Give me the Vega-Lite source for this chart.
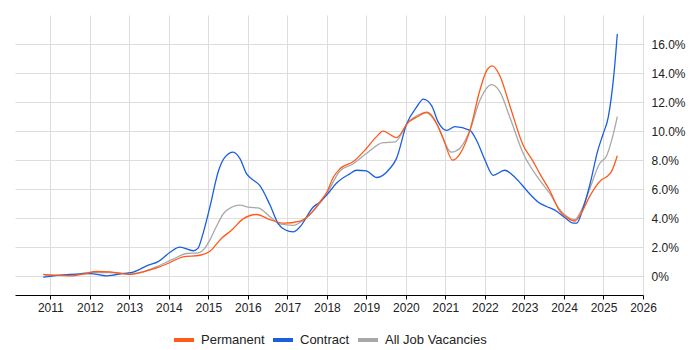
{
  "$schema": "https://vega.github.io/schema/vega-lite/v6.json",
  "width": 628,
  "height": 280,
  "autosize": "none",
  "padding": {"left": 15, "top": 15, "right": 57, "bottom": 55},
  "config": {"view": {"stroke": null}, "font": "Liberation Sans"},
  "data": {"values": [
    {"series": "All Job Vacancies", "year": 2010.85, "value": 0.08},
    {"series": "All Job Vacancies", "year": 2011.5, "value": 0.05},
    {"series": "All Job Vacancies", "year": 2012.0, "value": 0.25},
    {"series": "All Job Vacancies", "year": 2012.5, "value": 0.25},
    {"series": "All Job Vacancies", "year": 2013.0, "value": 0.15},
    {"series": "All Job Vacancies", "year": 2013.35, "value": 0.3},
    {"series": "All Job Vacancies", "year": 2013.69, "value": 0.65},
    {"series": "All Job Vacancies", "year": 2014.11, "value": 1.17},
    {"series": "All Job Vacancies", "year": 2014.45, "value": 1.56},
    {"series": "All Job Vacancies", "year": 2014.74, "value": 1.6},
    {"series": "All Job Vacancies", "year": 2014.9, "value": 1.9},
    {"series": "All Job Vacancies", "year": 2015.04, "value": 2.5},
    {"series": "All Job Vacancies", "year": 2015.2, "value": 3.4},
    {"series": "All Job Vacancies", "year": 2015.38, "value": 4.3},
    {"series": "All Job Vacancies", "year": 2015.59, "value": 4.75},
    {"series": "All Job Vacancies", "year": 2015.8, "value": 4.9},
    {"series": "All Job Vacancies", "year": 2016.01, "value": 4.75},
    {"series": "All Job Vacancies", "year": 2016.26, "value": 4.7},
    {"series": "All Job Vacancies", "year": 2016.56, "value": 4.1},
    {"series": "All Job Vacancies", "year": 2016.81, "value": 3.6},
    {"series": "All Job Vacancies", "year": 2017.15, "value": 3.5},
    {"series": "All Job Vacancies", "year": 2017.4, "value": 3.85},
    {"series": "All Job Vacancies", "year": 2017.74, "value": 4.75},
    {"series": "All Job Vacancies", "year": 2018.0, "value": 5.7},
    {"series": "All Job Vacancies", "year": 2018.33, "value": 7.25},
    {"series": "All Job Vacancies", "year": 2018.67, "value": 7.75},
    {"series": "All Job Vacancies", "year": 2019.0, "value": 8.45},
    {"series": "All Job Vacancies", "year": 2019.42, "value": 9.2},
    {"series": "All Job Vacancies", "year": 2019.72, "value": 9.25},
    {"series": "All Job Vacancies", "year": 2020.06, "value": 10.6},
    {"series": "All Job Vacancies", "year": 2020.52, "value": 11.25},
    {"series": "All Job Vacancies", "year": 2020.78, "value": 10.5},
    {"series": "All Job Vacancies", "year": 2021.15, "value": 8.55},
    {"series": "All Job Vacancies", "year": 2021.36, "value": 8.8},
    {"series": "All Job Vacancies", "year": 2021.62, "value": 10.05},
    {"series": "All Job Vacancies", "year": 2021.87, "value": 12.1},
    {"series": "All Job Vacancies", "year": 2022.17, "value": 13.2},
    {"series": "All Job Vacancies", "year": 2022.38, "value": 12.7},
    {"series": "All Job Vacancies", "year": 2022.63, "value": 10.95},
    {"series": "All Job Vacancies", "year": 2022.97, "value": 8.45},
    {"series": "All Job Vacancies", "year": 2023.39, "value": 6.6},
    {"series": "All Job Vacancies", "year": 2023.64, "value": 5.7},
    {"series": "All Job Vacancies", "year": 2023.89, "value": 4.6},
    {"series": "All Job Vacancies", "year": 2024.27, "value": 3.9},
    {"series": "All Job Vacancies", "year": 2024.45, "value": 4.6},
    {"series": "All Job Vacancies", "year": 2024.65, "value": 6.0},
    {"series": "All Job Vacancies", "year": 2024.9, "value": 7.75},
    {"series": "All Job Vacancies", "year": 2025.08, "value": 8.3},
    {"series": "All Job Vacancies", "year": 2025.24, "value": 9.7},
    {"series": "All Job Vacancies", "year": 2025.35, "value": 11.0},

    {"series": "Contract", "year": 2010.82, "value": -0.07},
    {"series": "Contract", "year": 2011.2, "value": 0.05},
    {"series": "Contract", "year": 2011.5, "value": 0.12},
    {"series": "Contract", "year": 2012.0, "value": 0.18},
    {"series": "Contract", "year": 2012.43, "value": 0.02},
    {"series": "Contract", "year": 2012.85, "value": 0.19},
    {"series": "Contract", "year": 2013.1, "value": 0.28},
    {"series": "Contract", "year": 2013.48, "value": 0.76},
    {"series": "Contract", "year": 2013.73, "value": 1.0},
    {"series": "Contract", "year": 2014.03, "value": 1.65},
    {"series": "Contract", "year": 2014.28, "value": 2.0},
    {"series": "Contract", "year": 2014.62, "value": 1.75},
    {"series": "Contract", "year": 2014.74, "value": 1.93},
    {"series": "Contract", "year": 2014.83, "value": 2.6},
    {"series": "Contract", "year": 2015.04, "value": 4.77},
    {"series": "Contract", "year": 2015.25, "value": 7.2},
    {"series": "Contract", "year": 2015.42, "value": 8.2},
    {"series": "Contract", "year": 2015.63, "value": 8.55},
    {"series": "Contract", "year": 2015.8, "value": 8.1},
    {"series": "Contract", "year": 2015.97, "value": 7.05},
    {"series": "Contract", "year": 2016.1, "value": 6.7},
    {"series": "Contract", "year": 2016.3, "value": 6.25},
    {"series": "Contract", "year": 2016.56, "value": 4.9},
    {"series": "Contract", "year": 2016.77, "value": 3.6},
    {"series": "Contract", "year": 2016.94, "value": 3.2},
    {"series": "Contract", "year": 2017.15, "value": 3.05},
    {"series": "Contract", "year": 2017.32, "value": 3.4},
    {"series": "Contract", "year": 2017.65, "value": 4.75},
    {"series": "Contract", "year": 2017.82, "value": 5.1},
    {"series": "Contract", "year": 2018.0, "value": 5.6},
    {"series": "Contract", "year": 2018.24, "value": 6.4},
    {"series": "Contract", "year": 2018.58, "value": 7.05},
    {"series": "Contract", "year": 2018.75, "value": 7.3},
    {"series": "Contract", "year": 2019.0, "value": 7.25},
    {"series": "Contract", "year": 2019.26, "value": 6.8},
    {"series": "Contract", "year": 2019.59, "value": 7.4},
    {"series": "Contract", "year": 2019.76, "value": 8.1},
    {"series": "Contract", "year": 2020.02, "value": 10.5},
    {"series": "Contract", "year": 2020.27, "value": 11.65},
    {"series": "Contract", "year": 2020.44, "value": 12.2},
    {"series": "Contract", "year": 2020.65, "value": 11.75},
    {"series": "Contract", "year": 2020.82, "value": 10.6},
    {"series": "Contract", "year": 2021.03, "value": 10.05},
    {"series": "Contract", "year": 2021.24, "value": 10.3},
    {"series": "Contract", "year": 2021.62, "value": 10.05},
    {"series": "Contract", "year": 2021.79, "value": 9.35},
    {"series": "Contract", "year": 2022.0, "value": 8.0},
    {"series": "Contract", "year": 2022.21, "value": 6.95},
    {"series": "Contract", "year": 2022.5, "value": 7.3},
    {"series": "Contract", "year": 2022.8, "value": 6.7},
    {"series": "Contract", "year": 2023.09, "value": 5.8},
    {"series": "Contract", "year": 2023.35, "value": 5.1},
    {"series": "Contract", "year": 2023.56, "value": 4.8},
    {"series": "Contract", "year": 2023.77, "value": 4.55},
    {"series": "Contract", "year": 2024.06, "value": 3.95},
    {"series": "Contract", "year": 2024.23, "value": 3.65},
    {"series": "Contract", "year": 2024.32, "value": 3.65},
    {"series": "Contract", "year": 2024.48, "value": 4.65},
    {"series": "Contract", "year": 2024.65, "value": 6.25},
    {"series": "Contract", "year": 2024.86, "value": 8.7},
    {"series": "Contract", "year": 2024.99, "value": 9.8},
    {"series": "Contract", "year": 2025.12, "value": 10.95},
    {"series": "Contract", "year": 2025.26, "value": 13.8},
    {"series": "Contract", "year": 2025.35, "value": 16.7},

    {"series": "Permanent", "year": 2010.82, "value": 0.12},
    {"series": "Permanent", "year": 2011.5, "value": 0.02},
    {"series": "Permanent", "year": 2011.85, "value": 0.15},
    {"series": "Permanent", "year": 2012.17, "value": 0.32},
    {"series": "Permanent", "year": 2012.51, "value": 0.3},
    {"series": "Permanent", "year": 2013.02, "value": 0.12},
    {"series": "Permanent", "year": 2013.35, "value": 0.3},
    {"series": "Permanent", "year": 2013.69, "value": 0.57},
    {"series": "Permanent", "year": 2014.03, "value": 0.94},
    {"series": "Permanent", "year": 2014.36, "value": 1.33},
    {"series": "Permanent", "year": 2014.79, "value": 1.44},
    {"series": "Permanent", "year": 2015.04, "value": 1.72},
    {"series": "Permanent", "year": 2015.33, "value": 2.6},
    {"series": "Permanent", "year": 2015.6, "value": 3.2},
    {"series": "Permanent", "year": 2015.88, "value": 3.95},
    {"series": "Permanent", "year": 2016.22, "value": 4.25},
    {"series": "Permanent", "year": 2016.56, "value": 3.9},
    {"series": "Permanent", "year": 2016.9, "value": 3.65},
    {"series": "Permanent", "year": 2017.32, "value": 3.8},
    {"series": "Permanent", "year": 2017.55, "value": 4.2},
    {"series": "Permanent", "year": 2017.82, "value": 5.1},
    {"series": "Permanent", "year": 2018.0, "value": 5.8},
    {"series": "Permanent", "year": 2018.16, "value": 6.8},
    {"series": "Permanent", "year": 2018.33, "value": 7.4},
    {"series": "Permanent", "year": 2018.67, "value": 7.9},
    {"series": "Permanent", "year": 2019.0, "value": 8.8},
    {"series": "Permanent", "year": 2019.25, "value": 9.6},
    {"series": "Permanent", "year": 2019.42, "value": 10.0},
    {"series": "Permanent", "year": 2019.76, "value": 9.55},
    {"series": "Permanent", "year": 2020.06, "value": 10.6},
    {"series": "Permanent", "year": 2020.3, "value": 11.0},
    {"series": "Permanent", "year": 2020.52, "value": 11.3},
    {"series": "Permanent", "year": 2020.69, "value": 10.95},
    {"series": "Permanent", "year": 2020.94, "value": 9.5},
    {"series": "Permanent", "year": 2021.18, "value": 8.0},
    {"series": "Permanent", "year": 2021.36, "value": 8.4},
    {"series": "Permanent", "year": 2021.62, "value": 10.05},
    {"series": "Permanent", "year": 2021.87, "value": 12.8},
    {"series": "Permanent", "year": 2022.05, "value": 14.2},
    {"series": "Permanent", "year": 2022.19, "value": 14.5},
    {"series": "Permanent", "year": 2022.38, "value": 13.8},
    {"series": "Permanent", "year": 2022.63, "value": 11.75},
    {"series": "Permanent", "year": 2022.97, "value": 9.0},
    {"series": "Permanent", "year": 2023.2, "value": 8.0},
    {"series": "Permanent", "year": 2023.39, "value": 7.05},
    {"series": "Permanent", "year": 2023.64, "value": 5.9},
    {"series": "Permanent", "year": 2023.89, "value": 4.5},
    {"series": "Permanent", "year": 2024.1, "value": 4.0},
    {"series": "Permanent", "year": 2024.27, "value": 3.8},
    {"series": "Permanent", "year": 2024.45, "value": 4.4},
    {"series": "Permanent", "year": 2024.65, "value": 5.5},
    {"series": "Permanent", "year": 2024.95, "value": 6.65},
    {"series": "Permanent", "year": 2025.08, "value": 6.85},
    {"series": "Permanent", "year": 2025.2, "value": 7.2},
    {"series": "Permanent", "year": 2025.35, "value": 8.3}
  ]},
  "mark": {"type": "line", "interpolate": "monotone", "strokeWidth": 1.3},
  "encoding": {
    "x": {
      "field": "year", "type": "quantitative",
      "scale": {"domain": [2010.107, 2026], "nice": false, "zero": false},
      "axis": {
        "values": [2011, 2012, 2013, 2014, 2015, 2016, 2017, 2018, 2019, 2020, 2021, 2022, 2023, 2024, 2025, 2026],
        "format": "d", "title": null, "grid": true, "gridColor": "#dddddd",
        "domainColor": "#000000", "tickColor": "#000000", "tickSize": 4,
        "labelFontSize": 12, "labelColor": "#222222", "labelPadding": 3, "labelFlush": false
      }
    },
    "y": {
      "field": "value", "type": "quantitative",
      "scale": {"domain": [-1.3, 18], "nice": false, "zero": false},
      "axis": {
        "orient": "right", "values": [0, 2, 4, 6, 8, 10, 12, 14, 16],
        "labelExpr": "datum.value == 0 ? '0%' : format(datum.value, '.1f') + '%'",
        "domain": false, "ticks": false, "labelPadding": 8, "title": null,
        "gridColor": "#dddddd", "labelFontSize": 12, "labelColor": "#222222"
      }
    },
    "color": {
      "field": "series", "type": "nominal",
      "scale": {"domain": ["Permanent", "Contract", "All Job Vacancies"], "range": ["#FF5A1A", "#1A5FE0", "#A8A8A8"]},
      "legend": {
        "orient": "none", "legendX": 157, "legendY": 313, "direction": "horizontal", "title": null,
        "symbolType": "stroke", "symbolStrokeWidth": 4, "symbolSize": 400, "padding": 0,
        "labelFontSize": 13, "labelColor": "#222222", "columnPadding": 0,
        "labelOffset": 5
      }
    }
  }
}
